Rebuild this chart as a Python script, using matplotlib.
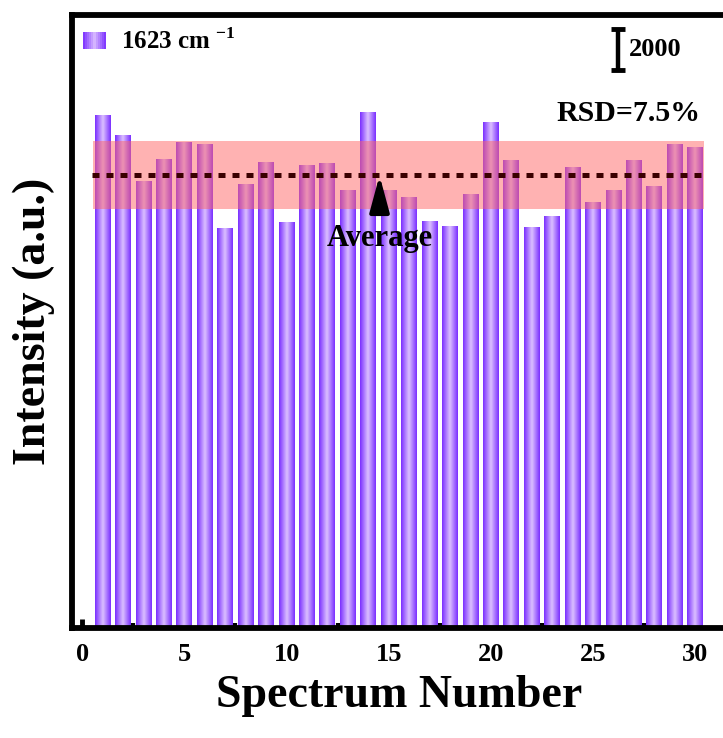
import numpy as np
import matplotlib
matplotlib.use("Agg")
import matplotlib.pyplot as plt
from matplotlib.colors import LinearSegmentedColormap
from matplotlib.legend_handler import HandlerBase
from matplotlib.patches import Rectangle

plt.rcParams['font.family'] = ['Liberation Serif', 'DejaVu Serif']
plt.rcParams['font.weight'] = 'bold'
plt.rcParams['mathtext.fontset'] = 'custom'
plt.rcParams['mathtext.rm'] = 'Liberation Serif:bold'
plt.rcParams['mathtext.bf'] = 'Liberation Serif:bold'

# intensity of the 1623 cm-1 band for 30 spectra
spectrum = np.arange(1, 31)
intensity = [25060, 24115, 21850, 22907, 23758, 23641, 19532, 21718, 22794, 19845,
             22613, 22745, 21391, 25225, 21425, 21082, 19874, 19630, 21229, 24751,
             22892, 19581, 20138, 22535, 20838, 21425, 22877, 21586, 23641, 23513]
legend_label = '1623 cm$^{\\ {-1}}$'
rsd_label = 'RSD=7.5%'
scale_value = 2000

avg = np.mean(intensity)
sd = np.std(intensity, ddof=1)

edge_col = '#7a2fff'
mid_col = '#dcc0ff'
cmap = LinearSegmentedColormap.from_list('barg', [edge_col, mid_col, edge_col])
grad = np.linspace(0, 1, 64).reshape(1, -1)

fig = plt.figure(figsize=(7.23, 7.38), dpi=100)
ax = fig.add_axes([0.0996, 0.149, 0.9044, 0.831])

# bars with a horizontal gradient (dark edges, light centre)
width = 0.78
for x, h in zip(spectrum, intensity):
    ax.imshow(grad, cmap=cmap, aspect='auto', extent=(x - width / 2, x + width / 2, 0, h),
              interpolation='bilinear', zorder=2)

ax.set_xlim(-0.5, 31.5)
ax.set_ylim(0, 30000)

# mean +- SD band and average line (drawn over the bars)
ax.axhspan(avg - sd, avg + sd, xmin=0.032, xmax=0.966, facecolor='#ff6666', alpha=0.5,
           lw=0, zorder=6)
ax.plot([0.5, 30.55], [avg, avg], color='#3a0000', lw=3.6, ls=(0, (1.4, 1.4)),
        dash_capstyle='butt', zorder=7)

ax.annotate('Average', xy=(14.55, avg), xytext=(14.55, avg - 3100),
            ha='center', va='center', fontsize=22, fontweight='bold',
            arrowprops=dict(arrowstyle='-|>,head_width=0.27,head_length=1.0', color='black',
                            lw=3, shrinkA=10, shrinkB=0), zorder=8)

# scale bar
ax.errorbar([26.2], [28320], yerr=[scale_value / 2], color='black', elinewidth=3.2,
            capsize=5, capthick=3.5, fmt='none', zorder=5)
ax.text(26.75, 28320, str(scale_value), ha='left', va='center', fontsize=19, fontweight='bold')
ax.text(30.25, 25190, rsd_label, ha='right', va='center', fontsize=21.5, fontweight='bold')


class GradHandler(HandlerBase):
    def create_artists(self, legend, orig_handle, xdescent, ydescent, width, height, fontsize, trans):
        arts = []
        n = 12
        for i in range(n):
            c = cmap((i + 0.5) / n)
            arts.append(Rectangle((xdescent + i * width / n, ydescent), width / n, height,
                                  facecolor=c, edgecolor='none', transform=trans))
        return arts


ax.legend([Rectangle((0, 0), 1, 1)], [legend_label], handler_map={Rectangle: GradHandler()},
          loc='upper left', frameon=False, fontsize=18, handlelength=0.92, handleheight=0.7,
          handletextpad=0.6, borderaxespad=0.25, bbox_to_anchor=(-0.008, 1.004))

for s in ax.spines.values():
    s.set_linewidth(4.2)

ax.set_xticks([0, 5, 10, 15, 20, 25, 30])
ax.set_xticks(np.arange(2.5, 30, 5), minor=True)
ax.tick_params(axis='x', which='major', direction='in', length=6.5, width=3.5, labelsize=19, pad=11)
ax.tick_params(axis='x', which='minor', direction='in', length=3.5, width=3.0)
ax.set_yticks([])

ax.set_xlabel('Spectrum Number', fontsize=33, fontweight='bold', labelpad=6)
ax.set_ylabel('Intensity (a.u.)', fontsize=33, fontweight='bold', labelpad=12)

fig.savefig('out.png', dpi=100)
